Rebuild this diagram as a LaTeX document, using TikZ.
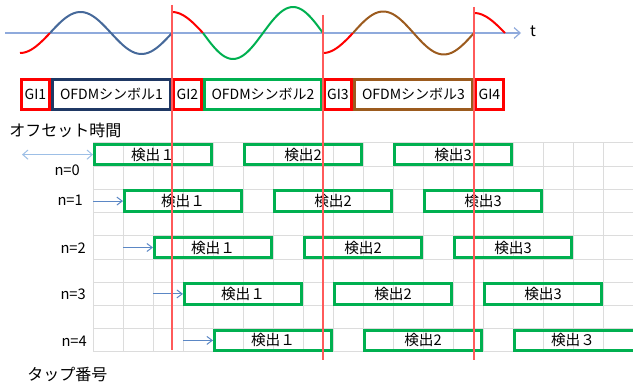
\documentclass[tikz,border=0pt]{standalone}
\usepackage{fontspec}
\setmainfont{Noto Sans CJK JP}
\usetikzlibrary{arrows.meta}
\definecolor{gired}{HTML}{FF0000}
\definecolor{navyc}{HTML}{1F3864}
\definecolor{sgreen}{HTML}{00B050}
\definecolor{brownc}{HTML}{9C5B1E}
\definecolor{waveblue}{HTML}{46699A}
\definecolor{axisblue}{HTML}{8FAADC}
\definecolor{arrblue}{HTML}{5B87C5}
\definecolor{lightarr}{HTML}{9DBFE6}
\definecolor{gridc}{HTML}{DCDCDC}
\definecolor{redline}{HTML}{FF5A5A}
\tikzset{
  symbox/.style={draw, line width=2.25pt, inner sep=0pt, minimum height=30*0.75pt,
    font=\fontsize{10.5}{12}\selectfont},
  detbox/.style={draw=sgreen, line width=2.25pt, inner sep=0pt,
    minimum width=117*0.75pt, minimum height=20.2*0.75pt, font=\fontsize{11}{13}\selectfont},
  dettext/.style={inner sep=0pt, font=\fontsize{11}{13}\selectfont},
  detline/.style={draw=sgreen, line width=2.25pt},
  nlabel/.style={anchor=east, inner sep=0pt, font=\fontsize{11}{13}\selectfont},
  biglabel/.style={anchor=west, inner sep=0pt, font=\fontsize{12}{14}\selectfont},
  wave/.style={line width=1.5pt, smooth, samples=60, variable=\x},
  tarrow/.style={draw=arrblue, line width=0.75pt, -{Straight Barb[length=4pt,width=6pt]}},
  vline/.style={draw=redline, line width=0.9pt},
}
\begin{document}
\begin{tikzpicture}[x=0.75pt,y=-0.75pt]
\useasboundingbox (0,0) rectangle (633,385);

% grid
\foreach \j in {0,...,18} \draw[gridc, line width=0.75pt] (93+30*\j,143) -- (93+30*\j,352);
\foreach \k in {0,...,9} \draw[gridc, line width=0.75pt] (93,143+23.22*\k) -- (633,143+23.22*\k);

% axis
\coordinate (ax0) at (5,33);
\node[inner sep=0pt, font=\fontsize{11.5}{13}\selectfont] (t) at (533,31) {t};
\coordinate (ax1) at (521,33);
\draw[axisblue, line width=0.9pt, -{Straight Barb[length=4.5pt,width=8pt]}] (ax0) -- (ax1);

% waveforms
\draw[wave, gired, domain=20:50] plot (\x, {33+20*cos(3*(\x-20))});
\draw[wave, waveblue, domain=50:172] plot (\x, {33-21*sin(2.9508*(\x-50))});
\draw[wave, gired, domain=172:203] plot (\x, {33-21*cos(2.9032*(\x-172))});
\draw[wave, sgreen, domain=203:323] plot (\x, {33+26*sin(3*(\x-203))});
\draw[wave, gired, domain=323:353] plot (\x, {33+20*cos(3*(\x-323))});
\draw[wave, brownc, domain=353:474] plot (\x, {33-21.5*sin(2.9752*(\x-353))});
\draw[wave, gired, domain=474:505] plot (\x, {33-20*cos(2.9032*(\x-474))});

% symbol row
\node[symbox, draw=navyc, minimum width=118*0.75pt] (s1) at (111.5,94.5) {OFDMシンボル1};
\node[symbox, draw=sgreen, minimum width=117*0.75pt] (s2) at (263,94.5) {OFDMシンボル2};
\node[symbox, draw=brownc, minimum width=118*0.75pt] (s3) at (413.5,94.5) {OFDMシンボル3};
\node[symbox, draw=gired, minimum width=28*0.75pt] (g1) at (35.5,94.5) {GI1};
\node[symbox, draw=gired, minimum width=28*0.75pt] (g2) at (187.5,94.5) {GI2};
\node[symbox, draw=gired, minimum width=27*0.75pt] (g3) at (338,94.5) {GI3};
\node[symbox, draw=gired, minimum width=28*0.75pt] (g4) at (489.5,94.5) {GI4};

% labels
\node[biglabel] (offs) at (9,130) {オフセット時間};
\node[biglabel] (tap) at (27,375) {タップ番号};

% detection boxes
\foreach \n/\ya in {0/154.6, 1/201.1, 2/247.5, 3/293.9, 4/340.4} {
  \node[detbox] (d\n0) at (153+30*\n,\ya) {検出１};
  \node[detbox] (d\n1) at (303+30*\n,\ya) {検出2};
}
\foreach \n/\ya in {0/154.6, 1/201.1, 2/247.5, 3/293.9} {
  \node[detbox] (d\n2) at (453+30*\n,\ya) {検出3};
}
\node[dettext] (d42) at (573,340.4) {検出３};
\draw[detline] (640,330.3) -- (514.5,330.3) -- (514.5,350.5) -- (640,350.5);

% n labels
\node[nlabel] (n0) at (80,170) {n=0};
\node[nlabel] (n1) at (83,200) {n=1};
\node[nlabel] (n2) at (86,248) {n=2};
\node[nlabel] (n3) at (86,294) {n=3};
\node[nlabel] (n4) at (87,341) {n=4};

% offset arrows
\coordinate (a0) at (22,154.6);
\draw[draw=lightarr, line width=0.75pt, {Straight Barb[length=4pt,width=7pt]}-{Straight Barb[length=4pt,width=7pt]}] (a0) -- (d00.west);
\coordinate (a1) at (93,201.1);
\coordinate (a2) at (123,247.5);
\coordinate (a3) at (153,293.9);
\coordinate (a4) at (183,340.4);
\draw[tarrow] (a1) -- (d10.west);
\draw[tarrow] (a2) -- (d20.west);
\draw[tarrow] (a3) -- (d30.west);
\draw[tarrow] (a4) -- (d40.west);

% red boundary lines
\coordinate (r1t) at (172,5);   \coordinate (r1b) at (172,350);
\coordinate (r2t) at (323,15);  \coordinate (r2b) at (323,360);
\coordinate (r3t) at (474,7);   \coordinate (r3b) at (474,360);
\draw[vline] (r1t) -- (r1b);
\draw[vline] (r2t) -- (r2b);
\draw[vline] (r3t) -- (r3b);
\end{tikzpicture}
\end{document}
